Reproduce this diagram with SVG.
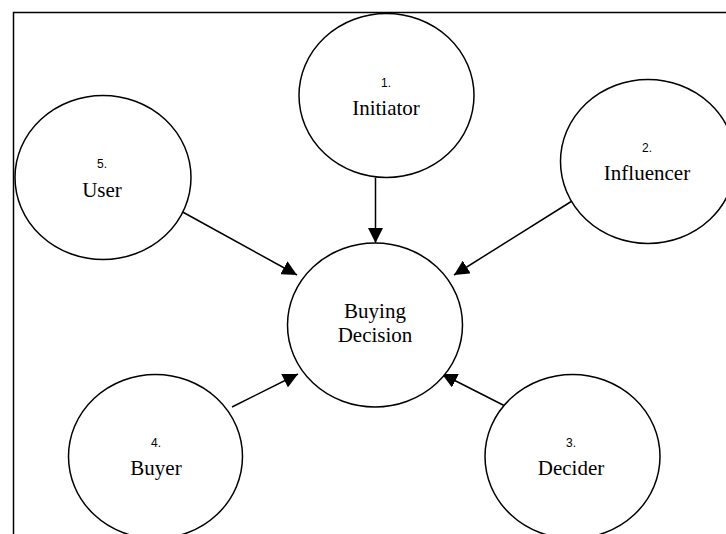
<svg xmlns="http://www.w3.org/2000/svg" width="726" height="534" viewBox="0 0 726 534">
<style>
.node ellipse{fill:#fff;stroke:#000;stroke-width:1.5}
.num{font-family:"Liberation Sans",Arial,sans-serif;font-size:12px;fill:#000;text-anchor:middle}
.lbl{font-family:"Liberation Serif","Times New Roman",serif;font-size:21px;fill:#000;text-anchor:middle}
.conn line{stroke:#000;stroke-width:1.5;marker-end:url(#ah)}
</style>
<defs>
<marker id="ah" markerUnits="userSpaceOnUse" markerWidth="15" markerHeight="15" refX="15" refY="7.5" orient="auto">
<path d="M0,0 L15,7.5 L0,15 Z" fill="#000"/>
</marker>
</defs>
<rect width="726" height="534" fill="#fff"/>
<rect x="13.5" y="12.5" width="730" height="540" fill="none" stroke="#000" stroke-width="1.5"/>
<g id="connectors" class="conn">
<line x1="375.5" y1="177.5" x2="375.5" y2="243"/>
<line x1="179" y1="210" x2="297" y2="275"/>
<line x1="572" y1="201" x2="454" y2="275"/>
<line x1="232" y1="407" x2="298" y2="374"/>
<line x1="507" y1="407" x2="442" y2="374"/>
</g>
<g id="initiator" class="node">
<ellipse cx="386.5" cy="95.5" rx="87.5" ry="82"/>
<text class="num" x="386" y="87">1.</text>
<text class="lbl" x="386" y="115">Initiator</text>
</g>
<g id="influencer" class="node">
<ellipse cx="648" cy="161.5" rx="87.5" ry="82"/>
<text class="num" x="647" y="152">2.</text>
<text class="lbl" x="647" y="180">Influencer</text>
</g>
<g id="decider" class="node">
<ellipse cx="572.5" cy="456.5" rx="87.5" ry="82"/>
<text class="num" x="571" y="447">3.</text>
<text class="lbl" x="571" y="475">Decider</text>
</g>
<g id="buyer" class="node">
<ellipse cx="155.5" cy="456.5" rx="87" ry="82"/>
<text class="num" x="156" y="447">4.</text>
<text class="lbl" x="156" y="475">Buyer</text>
</g>
<g id="user" class="node">
<ellipse cx="103" cy="177.5" rx="88" ry="82"/>
<text class="num" x="102" y="168">5.</text>
<text class="lbl" x="102" y="197">User</text>
</g>
<g id="buying-decision" class="node">
<ellipse cx="375" cy="325" rx="87.5" ry="82"/>
<text class="lbl" x="375" y="318">Buying</text>
<text class="lbl" x="375" y="342">Decision</text>
</g>
</svg>
